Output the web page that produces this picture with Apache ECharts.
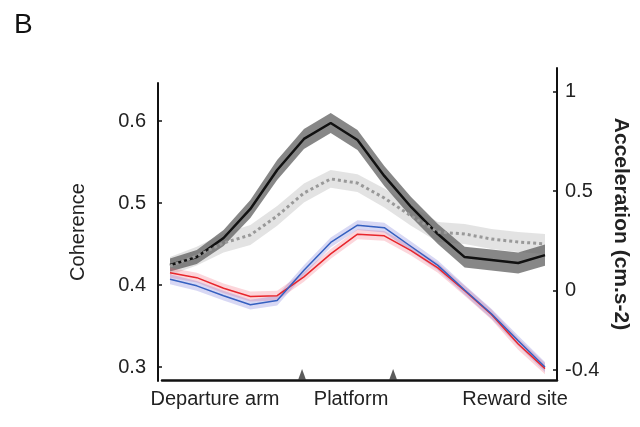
<!DOCTYPE html>
<html>
<head>
<meta charset="utf-8">
<script src="https://cdn.jsdelivr.net/npm/echarts@6/dist/echarts.min.js"></script>
<style>
  html, body { margin: 0; padding: 0; background: #fff; }
  #chart { width: 640px; height: 427px; }
</style>
</head>
<body>
<div id="chart"></div>
<script>
  // position along the trajectory (sample index)
  const steps = [0, 1, 2, 3, 4, 5, 6, 7, 8, 9, 10, 11, 12, 13, 14]

  // coherence (left axis)
  const coherenceRed = [0.415, 0.409, 0.396, 0.386, 0.387, 0.410, 0.438, 0.462, 0.460, 0.442, 0.421, 0.393, 0.364, 0.328, 0.298]
  const coherenceRedErr = [0.006, 0.006, 0.006, 0.006, 0.006, 0.006, 0.006, 0.006, 0.006, 0.006, 0.006, 0.006, 0.006, 0.007, 0.007]
  const coherenceBlue = [0.407, 0.399, 0.387, 0.376, 0.381, 0.418, 0.452, 0.473, 0.470, 0.447, 0.424, 0.394, 0.365, 0.332, 0.300]
  const coherenceBlueErr = [0.006, 0.006, 0.006, 0.006, 0.006, 0.006, 0.006, 0.006, 0.006, 0.006, 0.006, 0.006, 0.006, 0.006, 0.006]

  // acceleration (right axis)
  const accelBlack = [0.128, 0.168, 0.264, 0.410, 0.606, 0.762, 0.842, 0.757, 0.576, 0.420, 0.284, 0.168, 0.153, 0.138, 0.178]
  const accelBlackErr = [0.033, 0.035, 0.040, 0.045, 0.050, 0.050, 0.050, 0.050, 0.050, 0.050, 0.050, 0.052, 0.053, 0.053, 0.053]
  const accelGray = [0.123, 0.173, 0.239, 0.279, 0.375, 0.490, 0.561, 0.540, 0.465, 0.375, 0.294, 0.284, 0.259, 0.244, 0.234]
  const accelGrayErr = [0.045, 0.047, 0.048, 0.050, 0.050, 0.048, 0.045, 0.045, 0.048, 0.050, 0.050, 0.050, 0.050, 0.050, 0.050]

  // event markers on the x axis and zone labels
  const eventSteps = [4.93, 8.33]
  const zoneSteps = [1.68, 6.76, 12.88]
  const zoneLabels = ['Departure arm', 'Platform', 'Reward site']

  const leftTicks = [0.3, 0.4, 0.5, 0.6]
  const rightTicks = [-0.4, 0, 0.5, 1]

  const FONT = '"Liberation Sans", Arial, sans-serif'

  function pairs(vals) {
    return steps.map((s, i) => [s, vals[i]])
  }

  // shaded band (mean +/- err) drawn through the axis scales
  function band(name, vals, err, color, axisIdx, z) {
    return {
      name: name,
      type: 'custom',
      xAxisIndex: axisIdx,
      yAxisIndex: axisIdx,
      z: z,
      silent: true,
      data: [0],
      renderItem: function (params, api) {
        const pts = []
        steps.forEach((s, i) => pts.push(api.coord([s, vals[i] + err[i]])))
        for (let i = steps.length - 1; i >= 0; i--) {
          pts.push(api.coord([steps[i], vals[i] - err[i]]))
        }
        return {
          type: 'polygon',
          shape: { points: pts },
          style: { fill: color }
        }
      }
    }
  }

  const chart = echarts.init(document.getElementById('chart'))

  chart.setOption({
    animation: false,
    textStyle: { fontFamily: FONT },
    title: {
      text: 'B',
      left: 9,
      top: 6,
      textStyle: { fontSize: 28, fontWeight: 'normal', color: '#111', fontFamily: FONT }
    },
    grid: [
      { left: 158, right: 83, top: 83, bottom: 46 },
      { left: 162, right: 83, top: 68, bottom: 47 }
    ],
    xAxis: [
      {
        type: 'value', gridIndex: 0, min: -0.448, max: 14.448,
        show: false
      },
      {
        type: 'value', gridIndex: 1, min: -0.2987, max: 14.448,
        splitLine: { show: false },
        axisLine: { show: true, onZero: false, lineStyle: { color: '#111', width: 2.5 } },
        axisTick: { show: false },
        axisLabel: {
          customValues: zoneSteps,
          formatter: (v) => zoneLabels[zoneSteps.indexOf(v)],
          color: '#222', fontSize: 20, margin: 9, fontFamily: FONT
        }
      }
    ],
    yAxis: [
      {
        type: 'value', gridIndex: 0, position: 'left',
        min: 0.2829, max: 0.6465,
        name: 'Coherence', nameLocation: 'middle', nameGap: 70, nameRotate: 90,
        nameTextStyle: { fontSize: 20, color: '#222', fontFamily: FONT },
        splitLine: { show: false },
        axisLine: { show: true, onZero: false, lineStyle: { color: '#111', width: 2 } },
        axisTick: { show: true, inside: true, length: 4, customValues: leftTicks, lineStyle: { color: '#111', width: 1.5 } },
        axisLabel: { customValues: leftTicks, color: '#222', fontSize: 20, margin: 12, fontFamily: FONT }
      },
      {
        type: 'value', gridIndex: 1, position: 'right',
        min: -0.45, max: 1.1187,
        name: 'Acceleration (cm.s-2)', nameLocation: 'middle', nameGap: 53, nameRotate: -90,
        nameTextStyle: { fontSize: 21, fontWeight: 'bold', color: '#222', fontFamily: FONT },
        splitLine: { show: false },
        axisLine: { show: true, onZero: false, lineStyle: { color: '#111', width: 2 } },
        axisTick: { show: true, inside: true, length: 4, customValues: rightTicks, lineStyle: { color: '#111', width: 1.5 } },
        axisLabel: { customValues: rightTicks, color: '#222', fontSize: 20, margin: 8, fontFamily: FONT }
      }
    ],
    series: [
      band('Gray band', accelGray, accelGrayErr, 'rgba(215,215,215,0.7)', 1, 1),
      band('Black band', accelBlack, accelBlackErr, 'rgba(95,95,95,0.75)', 1, 2),
      {
        name: 'Acceleration', type: 'line', xAxisIndex: 1, yAxisIndex: 1, z: 3,
        symbol: 'none', data: pairs(accelBlack),
        lineStyle: { color: '#111', width: 2.5 }
      },
      {
        name: 'Acceleration 2', type: 'line', xAxisIndex: 1, yAxisIndex: 1, z: 4,
        symbol: 'none', data: pairs(accelGray),
        lineStyle: { color: '#999', width: 3, type: [3, 3] }
      },
      band('Red band', coherenceRed, coherenceRedErr, 'rgba(245,90,110,0.25)', 0, 5),
      band('Blue band', coherenceBlue, coherenceBlueErr, 'rgba(100,100,210,0.25)', 0, 5),
      {
        name: 'Coherence red', type: 'line', xAxisIndex: 0, yAxisIndex: 0, z: 6,
        symbol: 'none', data: pairs(coherenceRed),
        lineStyle: { color: '#e8262c', width: 1.5 }
      },
      {
        name: 'Coherence blue', type: 'line', xAxisIndex: 0, yAxisIndex: 0, z: 7,
        symbol: 'none', data: pairs(coherenceBlue),
        lineStyle: { color: '#3560c0', width: 1.5 }
      },
      {
        name: 'Events', type: 'scatter', xAxisIndex: 1, yAxisIndex: 1, z: 8,
        clip: false, silent: true,
        symbol: 'triangle', symbolSize: [8, 11], symbolOffset: [0, '-50%'],
        itemStyle: { color: '#333' },
        data: eventSteps.map((s) => [s, -0.45])
      }
    ]
  })
</script>
</body>
</html>
